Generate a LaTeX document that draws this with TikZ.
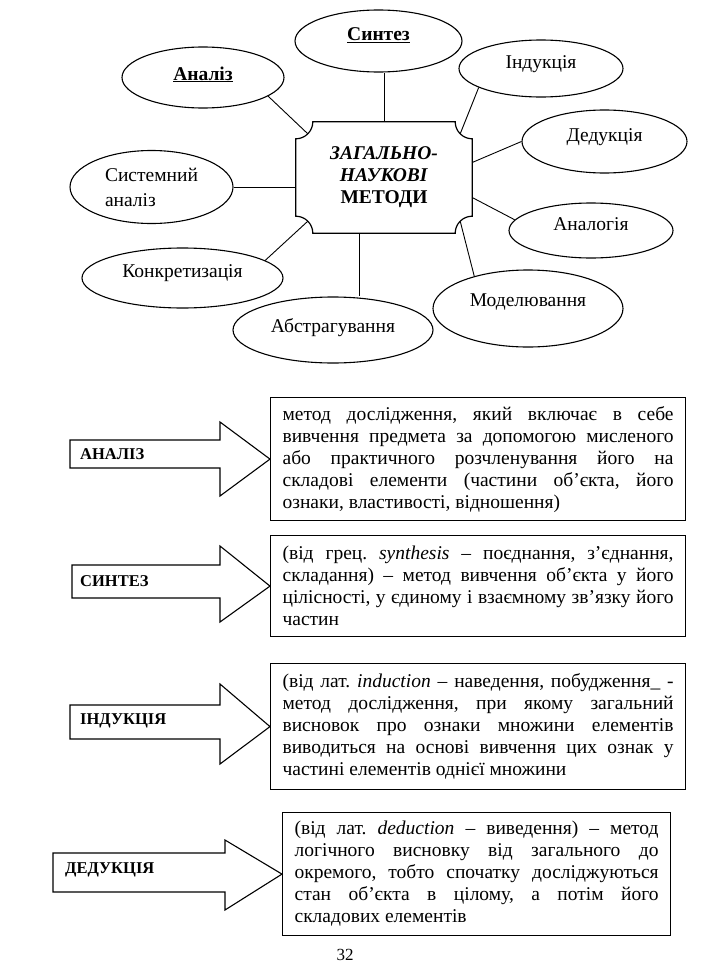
\documentclass[tikz,border=0pt]{standalone}
\usepackage{fontspec}
\setmainfont{Liberation Serif}
\usetikzlibrary{shapes.geometric}
\hyphenpenalty=10000
\exhyphenpenalty=10000
\frenchspacing

\begin{document}
\begin{tikzpicture}[x=1pt, y=-1pt,
  oval/.style={ellipse, draw, line width=1.1pt, inner sep=2pt,
    font=\fontsize{19.5}{25}\selectfont},
  method/.style={oval, text height=14pt, text depth=15pt},
  hub/.style={rectangle, minimum width=176pt, minimum height=111pt, align=center,
    font=\fontsize{19.5}{22}\selectfont\bfseries},
  plaque/.style={line width=1.2pt},
  link/.style={line width=0.9pt},
  defbox/.style={rectangle, draw, line width=1.2pt, anchor=north west, align=justify,
    inner xsep=12pt, inner ysep=8pt, font=\fontsize{19.5}{22}\selectfont},
  tag/.style={anchor=west, inner sep=0pt, font=\fontsize{16.5}{18}\selectfont\bfseries},
  fatarrow/.style={line width=1.1pt, line join=miter}
]
  \useasboundingbox (0,0) rectangle (711,977);

  % Centre of the scheme
  \node[hub] (centre) at (384,177.5) {\textit{ЗАГАЛЬНО-}\\\textit{НАУКОВІ}\\МЕТОДИ};
  \draw[plaque] ([xshift=17pt]centre.north west) -- ([xshift=-17pt]centre.north east)
    arc[start angle=180, end angle=270, radius=17pt]
    -- ([yshift=17pt]centre.south east)
    arc[start angle=90, end angle=180, radius=17pt]
    -- ([xshift=17pt]centre.south west)
    arc[start angle=0, end angle=90, radius=17pt]
    -- ([yshift=-17pt]centre.north west)
    arc[start angle=270, end angle=360, radius=17pt]
    -- cycle;

  % Methods round the centre
  \node[method, minimum width=167pt, minimum height=62pt] (syntez) at (378.5,41) {\bfseries\underline{Синтез}};
  \node[method, minimum width=162pt, minimum height=61pt, text depth=9pt] (analiz) at (203,77.5) {\bfseries\underline{Аналіз}};
  \node[method, minimum width=164pt, minimum height=57pt] (indukcia) at (541,68.5) {Індукція};
  \node[method, minimum width=165pt, minimum height=63pt] (dedukcia) at (604.5,141.5) {Дедукція};
  \node[oval, minimum width=163pt, minimum height=73pt, align=left] (system) at (151.5,187) {Системний\\аналіз};
  \node[method, minimum width=164pt, minimum height=55pt] (analogia) at (591,230.5) {Аналогія};
  \node[method, minimum width=201pt, minimum height=60pt] (konkret) at (182.5,278) {Конкретизація};
  \node[method, minimum width=190pt, minimum height=77pt, text depth=19pt] (model) at (528,308.5) {Моделювання};
  \node[method, minimum width=200pt, minimum height=66pt, text depth=9pt] (abstr) at (333,330) {Абстрагування};

  % Links
  \draw[link] (centre.north) -- (centre.north |- syntez.south);
  \draw[link] (analiz.-16) -- ([shift={(12pt,-12pt)}]centre.north west);
  \draw[link] (indukcia.197) -- ([shift={(-12pt,-12pt)}]centre.north east);
  \draw[link] (dedukcia.west) -- ([yshift=15pt]centre.east);
  \draw[link] (system.east) -- (system.east -| centre.west);
  \draw[link] (analogia.172) -- ([yshift=-20pt]centre.east);
  \draw[link] (konkret.12) -- ([shift={(12pt,12pt)}]centre.south west);
  \draw[link] (model.149) -- ([shift={(-12pt,12pt)}]centre.south east);
  \draw[link] ([xshift=-25pt]centre.south) -- ([xshift=-25pt]centre.south |- abstr.north);

  % Definitions
  \node[defbox, text width=391pt, minimum height=123pt] (defA) at (270,397)
    {метод дослідження, який включає в себе\linebreak
     вивчення предмета за допомогою мисленого\linebreak
     або практичного розчленування його на\linebreak
     складові елементи (частини об’єкта, його\linebreak
     ознаки, властивості, відношення)};
  \node[defbox, text width=391pt, minimum height=101pt] (defB) at (270,535)
    {(від грец. \textit{synthesis} – поєднання, з’єднання,\linebreak
     складання) – метод вивчення об’єкта у його\linebreak
     цілісності, у єдиному і взаємному зв’язку його\linebreak
     частин};
  \node[defbox, text width=391pt, minimum height=126pt] (defC) at (270,663)
    {(від лат. \textit{induction} – наведення, побудження\_ -\linebreak
     метод дослідження, при якому загальний\linebreak
     висновок про ознаки множини елементів\linebreak
     виводиться на основі вивчення цих ознак у\linebreak
     частині елементів однієї множини};
  \node[defbox, text width=364pt, minimum height=123pt] (defD) at (282,812)
    {(від лат. \textit{deduction} – виведення) – метод\linebreak
     логічного висновку від загального до\linebreak
     окремого, тобто спочатку досліджуються\linebreak
     стан об’єкта в цілому, а потім його\linebreak
     складових елементів};

  % Arrows with the terms
  \draw[fatarrow] (70,440) -- (220,440) -- (220,422) -- (defA.west) -- (220,496) -- (220,468) -- (70,468) -- cycle;
  \node[tag] (tagA) at (80,454) {АНАЛІЗ};
  \draw[fatarrow] (72,565) -- (220,565) -- (220,546) -- (defB.west) -- (220,622) -- (220,598) -- (72,598) -- cycle;
  \node[tag] (tagB) at (80,581) {СИНТЕЗ};
  \draw[fatarrow] (70,705) -- (220,705) -- (220,684) -- (defC.west) -- (220,764) -- (220,739) -- (70,739) -- cycle;
  \node[tag] (tagC) at (80,721) {ІНДУКЦІЯ};
  \draw[fatarrow] (53,853) -- (225,853) -- (225,840) -- (defD.west) -- (225,910) -- (225,892) -- (53,892) -- cycle;
  \node[tag] (tagD) at (65,870) {ДЕДУКЦІЯ};

  \node[font=\fontsize{17}{19}\selectfont] (pagenum) at (345,955) {32};
\end{tikzpicture}
\end{document}
